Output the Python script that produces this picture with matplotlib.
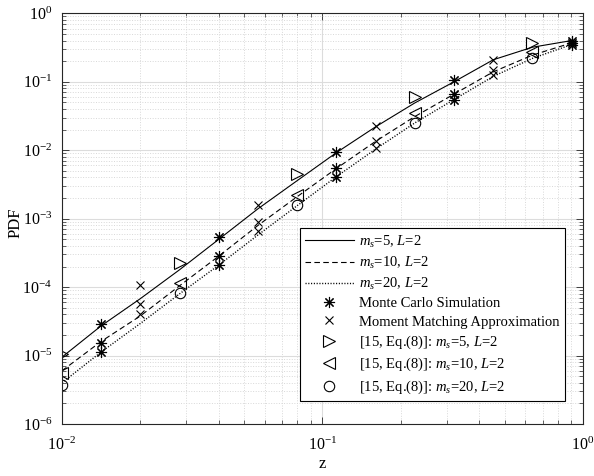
import matplotlib
matplotlib.use('Agg')
import matplotlib.pyplot as plt
from matplotlib.ticker import LogLocator, NullFormatter

plt.rcParams['font.family'] = ['Liberation Serif', 'DejaVu Serif']
plt.rcParams['mathtext.fontset'] = 'custom'
plt.rcParams['mathtext.rm'] = 'Liberation Serif'
plt.rcParams['mathtext.it'] = 'Liberation Serif:italic'
plt.rcParams['mathtext.bf'] = 'Liberation Serif:bold'

# analytical curves (m_s = 5, 10, 20 ; L = 2)
z_curve = [0.01, 0.0141, 0.02, 0.0283, 0.04, 0.0566, 0.08, 0.113, 0.16, 0.226, 0.32, 0.453, 0.64, 0.905]
pdf_ms5 = [9.5e-6, 2.7e-5, 6.8e-5, 1.8e-4, 5.0e-4, 1.4e-3, 3.6e-3, 9.2e-3, 0.022, 0.049, 0.10, 0.21, 0.32, 0.40]
pdf_ms10 = [6.0e-6, 1.6e-5, 3.8e-5, 1.05e-4, 2.84e-4, 8.0e-4, 2.1e-3, 5.4e-3, 0.0135, 0.031, 0.066, 0.14, 0.245, 0.37]
pdf_ms20 = [4.0e-6, 1.12e-5, 2.95e-5, 8.0e-5, 2.1e-4, 5.8e-4, 1.55e-3, 4.1e-3, 0.0104, 0.025, 0.055, 0.12, 0.22, 0.35]

# Monte Carlo simulation
z_mc = [0.0141, 0.04, 0.113, 0.32, 0.905]
mc_ms5 = [2.9e-5, 5.4e-4, 9.4e-3, 0.105, 0.40]
mc_ms10 = [1.55e-5, 2.84e-4, 5.5e-3, 0.066, 0.37]
mc_ms20 = [1.12e-5, 2.1e-4, 4.1e-3, 0.055, 0.35]

# moment matching approximation
z_mm = [0.02, 0.0566, 0.16, 0.453]
mm_ms5 = [1.06e-4, 1.6e-3, 0.0226, 0.206]
mm_ms10 = [5.6e-5, 8.8e-4, 0.0137, 0.147]
mm_ms20 = [4.1e-5, 6.6e-4, 0.0106, 0.124]

# [15, Eq.(8)]
z_ref = [0.01, 0.0283, 0.08, 0.226, 0.64]
ref_ms5 = [1.07e-5, 2.26e-4, 4.5e-3, 0.060, 0.37]
ref_ms10 = [5.5e-6, 1.13e-4, 2.2e-3, 0.035, 0.27]
ref_ms20 = [3.7e-6, 8.1e-5, 1.6e-3, 0.025, 0.225]

fig = plt.figure(figsize=(5.94, 4.76), dpi=100)
ax = fig.add_axes([0.1044, 0.1092, 0.877, 0.8628])

lw = 0.8
ax.loglog(z_curve, pdf_ms5, 'k-', lw=lw, label=r'$m_s$=5, $L$=2')
ax.loglog(z_curve, pdf_ms10, 'k--', lw=lw, dashes=(5, 3), label=r'$m_s$=10, $L$=2')
ax.loglog(z_curve, pdf_ms20, 'k:', lw=1.0, dashes=(0.8, 1.2), label=r'$m_s$=20, $L$=2')

mk = dict(color='k', mfc='none', mec='k', mew=0.8, ls='none')
ax.loglog(z_mc, mc_ms5, marker=(8, 2, 0), ms=8, label='Monte Carlo Simulation', **mk)
ax.loglog(z_mc, mc_ms10, marker=(8, 2, 0), ms=8, **mk)
ax.loglog(z_mc, mc_ms20, marker=(8, 2, 0), ms=8, **mk)
ax.loglog(z_mm, mm_ms5, marker='x', ms=6, label='Moment Matching Approximation', **mk)
ax.loglog(z_mm, mm_ms10, marker='x', ms=6, **mk)
ax.loglog(z_mm, mm_ms20, marker='x', ms=6, **mk)
ax.loglog(z_ref, ref_ms5, marker='>', ms=8.5, label=r'[15, Eq.(8)]: $m_s$=5, $L$=2', **mk)
ax.loglog(z_ref, ref_ms10, marker='<', ms=8.5, label=r'[15, Eq.(8)]: $m_s$=10, $L$=2', **mk)
ax.loglog(z_ref, ref_ms20, marker='o', ms=7.5, label=r'[15, Eq.(8)]: $m_s$=20, $L$=2', **mk)

ax.set_xlim(1e-2, 1)
ax.set_ylim(1e-6, 1)
ax.xaxis.set_major_locator(LogLocator(base=10, numticks=10))
ax.yaxis.set_major_locator(LogLocator(base=10, numticks=10))
ax.xaxis.set_minor_locator(LogLocator(base=10, subs=range(2, 10), numticks=20))
ax.yaxis.set_minor_locator(LogLocator(base=10, subs=range(2, 10), numticks=20))
ax.xaxis.set_minor_formatter(NullFormatter())
ax.yaxis.set_minor_formatter(NullFormatter())

ax.grid(which='major', color='#dcdcdc', ls='-', lw=0.8)
ax.grid(which='minor', color='#d8d8d8', ls=':', lw=0.7)
ax.set_axisbelow(True)

ax.tick_params(which='both', direction='in', top=True, right=True, labelsize=11.5, color='#262626')
ax.tick_params(axis='y', which='major', pad=7)
ax.tick_params(axis='x', which='major', pad=9)
ax.tick_params(which='major', length=5, width=0.6)
ax.tick_params(which='minor', length=3, width=0.5)
for s in ax.spines.values():
    s.set_color('#262626')
    s.set_linewidth(0.8)

ax.set_xlabel('z', fontsize=12)
ax.set_ylabel('PDF', fontsize=12)
ax.xaxis.set_label_coords(0.5, -0.077)
ax.yaxis.set_label_coords(-0.074, 0.49)

leg = ax.legend(loc='lower right', bbox_to_anchor=(0.9655, 0.056), fontsize=10.5,
                fancybox=False, framealpha=1, edgecolor='k', borderaxespad=0,
                handlelength=3.4, handletextpad=0.35, borderpad=0.35, labelspacing=0.35)
leg.get_frame().set_linewidth(0.8)

fig.savefig('out.png', dpi=100)
